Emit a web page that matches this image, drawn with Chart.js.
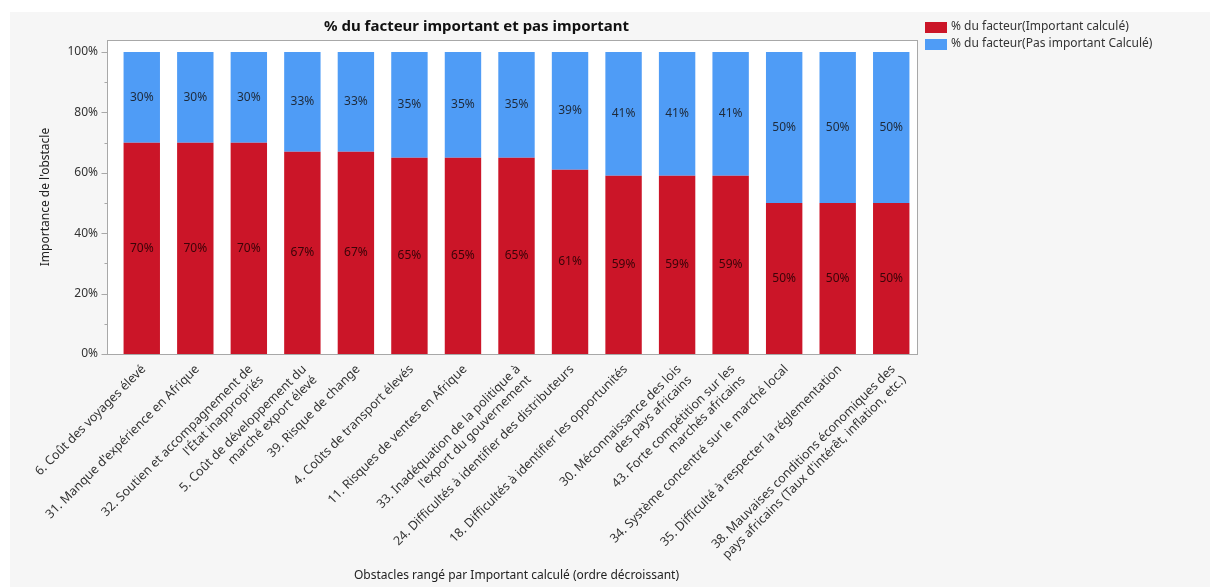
<!DOCTYPE html>
<html>
<head>
<meta charset="utf-8">
<script src="https://cdn.jsdelivr.net/npm/chart.js@4"></script>
<style>
  html, body { margin: 0; padding: 0; background: #ffffff; }
  #wrap { position: absolute; left: 10px; top: 12px; width: 1200px; height: 575px; background: #f6f6f6; }
</style>
</head>
<body>
<div id="wrap"><canvas id="chart" width="1200" height="575"></canvas></div>
<script>
// obstacles, sorted by "important" share (descending)
const obstacles = [
  "6. Coût des voyages élevé",
  "31. Manque d'expérience en Afrique",
  ["32. Soutien et accompagnement de", "l'État inappropriés"],
  ["5. Coût de développement du", "marché export élevé"],
  "39. Risque de change",
  "4. Coûts de transport élevés",
  "11. Risques de ventes en Afrique",
  ["33. Inadéquation de la politique à", "l'export du gouvernement"],
  "24. Difficultés à identifier des distributeurs",
  "18. Difficultés à identifier les opportunités",
  ["30. Méconnaissance des lois", "des pays africains"],
  ["43. Forte compétition sur les", "marchés africains"],
  "34. Système concentré sur le marché local",
  "35. Difficulté à respecter la réglementation",
  ["38. Mauvaises conditions économiques des", "pays africains (Taux d'intérêt, inflation, etc.)"]
];
const importantPct = [70, 70, 70, 67, 67, 65, 65, 65, 61, 59, 59, 59, 50, 50, 50];
const notImportantPct = [30, 30, 30, 33, 33, 35, 35, 35, 39, 41, 41, 41, 50, 50, 50];
const yTicks = [0, 10, 20, 30, 40, 50, 60, 70, 80, 90, 100];

const chartTitle = "% du facteur important et pas important";
const labelImportant = "% du facteur(Important calculé)";
const labelNotImportant = "% du facteur(Pas important Calculé)";

const FONT = "'Noto Sans', 'Open Sans', sans-serif";
const RED = "#cb1528";
const BLUE = "#4f9cf6";
const FRAME = "#a8a8a8";
const GAP = 8; // space between the y axis line and the first bar slot

// white plot panel with a thin gray frame and the y tick marks
const framePlugin = {
  id: "frame",
  beforeDatasetsDraw(chart) {
    const { ctx, chartArea: a } = chart;
    ctx.save();
    ctx.fillStyle = "#ffffff";
    ctx.fillRect(a.left - GAP, a.top, a.right - a.left + GAP, a.bottom - a.top);
    ctx.restore();
  },
  afterDatasetsDraw(chart) {
    const { ctx, chartArea: a } = chart;
    const y = chart.scales.y;
    const x0 = a.left - GAP + 0.5;
    ctx.save();
    ctx.strokeStyle = FRAME;
    ctx.lineWidth = 1;
    ctx.strokeRect(x0, a.top + 0.5, a.right - x0 - 0.5, a.bottom - a.top);
    ctx.beginPath();
    yTicks.forEach(v => {
      const py = Math.round(y.getPixelForValue(v)) + 0.5;
      const len = v % 20 === 0 ? 6 : 3;
      ctx.moveTo(x0 - len, py);
      ctx.lineTo(x0, py);
    });
    ctx.stroke();
    ctx.restore();
  }
};

// value labels in the middle of each segment
const valueLabels = {
  id: "valueLabels",
  afterDatasetsDraw(chart) {
    const ctx = chart.ctx;
    ctx.save();
    ctx.font = "12px " + FONT;
    ctx.textAlign = "center";
    ctx.textBaseline = "middle";
    chart.data.datasets.forEach((ds, i) => {
      const meta = chart.getDatasetMeta(i);
      ctx.fillStyle = i === 0 ? "#3a0408" : "#1e2a3a";
      meta.data.forEach((bar, j) => {
        const mid = (bar.y + bar.base) / 2;
        ctx.fillText(ds.data[j] + "%", bar.x, mid);
      });
    });
    ctx.restore();
  }
};

// title + legend drawn the way the source tool lays them out
const headerPlugin = {
  id: "header",
  afterDraw(chart) {
    const { ctx, chartArea: a } = chart;
    ctx.save();
    ctx.fillStyle = "#111";
    ctx.font = "bold 15px " + FONT;
    ctx.textAlign = "center";
    ctx.textBaseline = "middle";
    ctx.fillText(chartTitle, (a.left + a.right) / 2 - 40, a.top - 13);

    ctx.font = "12px " + FONT;
    ctx.textAlign = "left";
    const lx = a.right + 7;
    chart.data.datasets.forEach((ds, i) => {
      const ly = 15 + i * 17;
      ctx.fillStyle = ds.backgroundColor;
      ctx.fillRect(lx, ly - 5, 22, 11);
      ctx.fillStyle = "#333";
      ctx.fillText(ds.label, lx + 26, ly);
    });
    ctx.restore();
  }
};

new Chart(document.getElementById("chart"), {
  type: "bar",
  data: {
    labels: obstacles,
    datasets: [
      { label: labelImportant, data: importantPct, backgroundColor: RED },
      { label: labelNotImportant, data: notImportantPct, backgroundColor: BLUE }
    ]
  },
  options: {
    responsive: false,
    animation: false,
    layout: { padding: { top: 28, right: 292, bottom: 2, left: 26 } },
    datasets: { bar: { categoryPercentage: 1, barPercentage: 0.68 } },
    plugins: {
      legend: { display: false },
      title: { display: false },
      tooltip: { enabled: false }
    },
    scales: {
      x: {
        stacked: true,
        grid: { display: false },
        border: { display: false },
        ticks: {
          color: "#333",
          font: { family: FONT, size: 12.5 },
          minRotation: 45,
          maxRotation: 45,
          autoSkip: false,
          padding: 0,
          labelOffset: 2
        },
        title: {
          display: true,
          text: "Obstacles rangé par Important calculé (ordre décroissant)",
          color: "#222",
          font: { family: FONT, size: 12 },
          padding: { top: 2, bottom: 2 }
        },
        afterFit(scale) { scale.height = 575 - 342 - 2; }
      },
      y: {
        stacked: true,
        min: 0,
        max: 104,
        afterBuildTicks(scale) {
          scale.ticks = yTicks.map(v => ({ value: v }));
        },
        grid: { display: false, drawTicks: false },
        border: { display: false },
        ticks: {
          color: "#333",
          font: { family: FONT, size: 12 },
          autoSkip: false,
          padding: GAP + 9,
          callback: v => (v % 20 === 0 ? v + "%" : "")
        },
        title: {
          display: true,
          text: "Importance de l'obstacle",
          color: "#222",
          font: { family: FONT, size: 12 },
          padding: 2
        },
        afterFit(scale) { scale.width = 105 - 26; }
      }
    }
  },
  plugins: [framePlugin, valueLabels, headerPlugin]
});
</script>
</body>
</html>
